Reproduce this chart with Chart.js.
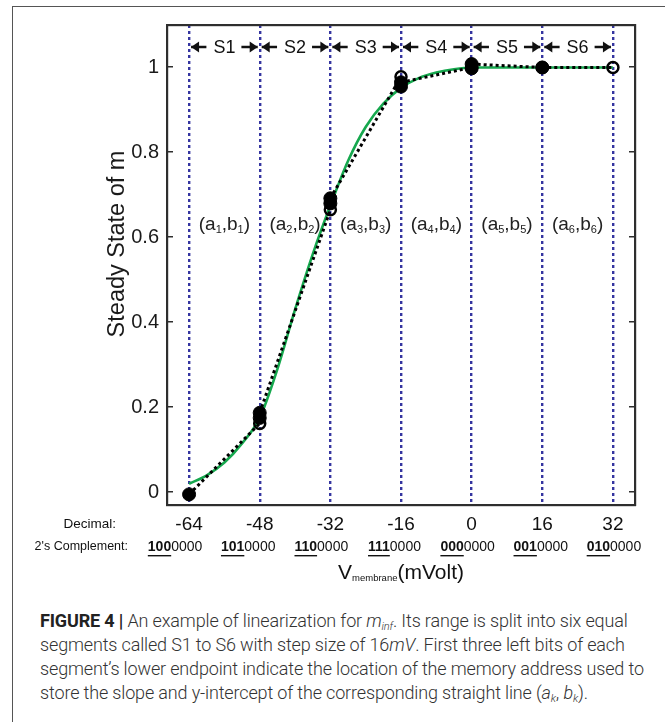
<!DOCTYPE html>
<html>
<head>
<meta charset="utf-8">
<script src="https://cdn.jsdelivr.net/npm/chart.js@4"></script>
<style>
  body { margin: 0; width: 665px; height: 722px; overflow: hidden; background: #fff; position: relative; }
  #frame { position: absolute; left: 12px; top: 6px; width: 700px; height: 760px; border: 1.5px solid #555; box-sizing: border-box; }
  #chartBox { position: absolute; left: 0; top: 0; width: 665px; height: 600px; }
  #caption { position: absolute; left: 40px; top: 609px; width: 620px; font-family: Roboto, 'Liberation Sans', Arial, sans-serif;
    font-size: 18px; font-weight: 300; line-height: 24px; color: #333; white-space: nowrap; letter-spacing: -0.15px; }
  #caption b { font-weight: 700; color: #222; }
  #caption sub { font-size: 11px; vertical-align: -3px; line-height: 0; }
</style>
</head>
<body>
<div id="frame"></div>
<div id="chartBox"><canvas id="mChart" width="665" height="600"></canvas></div>
<div id="caption">
  <b>FIGURE 4 |</b> An example of linearization for <i>m<sub>inf</sub></i>. Its range is split into six equal<br>
  segments called S1 to S6 with step size of 16<i>mV</i>. First three left bits of each<br>
  segment’s lower endpoint indicate the location of the memory address used to<br>
  store the slope and y-intercept of the corresponding straight line (<i>a<sub>k</sub></i>, <i>b<sub>k</sub></i>).
</div>
<script>
// ejes
const xTicks = [-64, -48, -32, -16, 0, 16, 32];
const decimalLabels = ['-64', '-48', '-32', '-16', '0', '16', '32'];
const binaryLabels = ['1000000', '1010000', '1100000', '1110000', '0000000', '0010000', '0100000'];
const segmentNames = ['S1', 'S2', 'S3', 'S4', 'S5', 'S6'];
const yTicks = [0, 0.2, 0.4, 0.6, 0.8, 1];

// curva verde m_inf
const vCurve = [-64, -60, -56, -52, -48, -44, -40, -36, -32, -28, -24, -20, -16, -12, -8, -4, 0, 8, 16, 24, 32];
const mCurve = [0.02, 0.04, 0.07, 0.115, 0.175, 0.29, 0.43, 0.56, 0.675, 0.78, 0.86, 0.915, 0.952, 0.975, 0.988, 0.996, 1.0, 1.0, 1.0, 1.0, 1.0];

// tramos lineales (inicio lleno, final abierto)
const segStartX = [-64, -48, -32, -16, 0, 16];
const segStartY = [-0.005, 0.187, 0.692, 0.965, 1.008, 1.0];
const segEndX = [-48, -32, -16, 0, 16, 32];
const segEndY = [0.162, 0.665, 0.978, 1.0, 1.0, 1.0];

// puntos llenos adicionales
const extraX = [-48, -32, -16, 0];
const extraY = [0.175, 0.680, 0.955, 0.998];

const FONT = "'Liberation Sans', Arial, sans-serif";

const curvePts = vCurve.map((v, i) => ({ x: v, y: mCurve[i] }));
const dottedPts = [];
segStartX.forEach((v, i) => {
  dottedPts.push({ x: v, y: segStartY[i] });
  dottedPts.push({ x: segEndX[i], y: segEndY[i] });
  if (i < segStartX.length - 1) dottedPts.push({ x: segEndX[i], y: null });
});
const filledPts = segStartX.map((v, i) => ({ x: v, y: segStartY[i] }))
  .concat(extraX.map((v, i) => ({ x: v, y: extraY[i] })));
const openPts = segEndX.map((v, i) => ({ x: v, y: segEndY[i] }));

function drawSub(ctx, parts, cx, y, big, small) {
  // parts: [texto, esSubindice]
  let w = 0;
  parts.forEach(p => { ctx.font = (p[1] ? small : big) + 'px ' + FONT; w += ctx.measureText(p[0]).width; });
  let x = cx - w / 2;
  ctx.textAlign = 'left';
  parts.forEach(p => {
    ctx.font = (p[1] ? small : big) + 'px ' + FONT;
    ctx.fillText(p[0], x, p[1] ? y + 5 : y);
    x += ctx.measureText(p[0]).width;
  });
}

const extrasPlugin = {
  id: 'extras',
  afterDraw(chart) {
    const ctx = chart.ctx;
    const a = chart.chartArea;
    const xs = chart.scales.x, ys = chart.scales.y;
    ctx.save();
    ctx.setLineDash([]);

    // caja
    ctx.fillStyle = '#2e2e2e';
    ctx.fillRect(a.left - 1, a.top - 1, a.right - a.left + 2, 2.2);
    ctx.fillRect(a.left - 1, a.bottom - 1, a.right - a.left + 2, 2.2);
    ctx.fillRect(a.left - 1, a.top - 1, 2.2, a.bottom - a.top + 2);
    ctx.fillRect(a.right - 1, a.top - 1, 2.2, a.bottom - a.top + 2);

    // marcas hacia dentro
    yTicks.forEach(v => {
      const py = Math.round(ys.getPixelForValue(v));
      ctx.fillRect(a.left, py - 1, 6, 1.5);
      ctx.fillRect(a.right - 6, py - 1, 6, 1.5);
    });

    // título del eje y
    ctx.save();
    ctx.fillStyle = '#1a1a1a';
    ctx.font = '23.5px ' + FONT;
    ctx.textAlign = 'center';
    ctx.textBaseline = 'middle';
    ctx.translate(118, 244);
    ctx.rotate(-Math.PI / 2);
    ctx.fillText('Steady State of m', 0, 0);
    ctx.restore();

    // etiquetas de segmentos con flechas
    ctx.fillStyle = '#111';
    ctx.strokeStyle = '#111';
    ctx.textBaseline = 'middle';
    const ty = a.top + 22;
    for (let i = 0; i < segmentNames.length; i++) {
      const x0 = xs.getPixelForValue(xTicks[i]);
      const x1 = xs.getPixelForValue(xTicks[i + 1]);
      const mid = (x0 + x1) / 2;
      ctx.font = '18px ' + FONT;
      ctx.textAlign = 'center';
      ctx.fillText(segmentNames[i], mid, ty + 1);
      ctx.lineWidth = 2.5;
      const arrows = [[mid - 18, x0 + 2], [mid + 17, x1 - 2]];
      arrows.forEach(([from, to]) => {
        const dir = Math.sign(to - from);
        ctx.beginPath();
        ctx.moveTo(from, ty); ctx.lineTo(to, ty);
        ctx.stroke();
        ctx.beginPath();
        ctx.moveTo(to, ty);
        ctx.lineTo(to - dir * 8, ty - 5.5);
        ctx.lineTo(to - dir * 8, ty + 5.5);
        ctx.closePath();
        ctx.fill();
      });
    }

    // (a_k, b_k)
    ctx.fillStyle = '#222';
    const ly = ys.getPixelForValue(0.63);
    for (let i = 0; i < segmentNames.length; i++) {
      const mid = (xs.getPixelForValue(xTicks[i]) + xs.getPixelForValue(xTicks[i + 1])) / 2;
      const k = String(i + 1);
      drawSub(ctx, [['(a', false], [k, true], [',b', false], [k, true], [')', false]], mid, ly, 19, 11);
    }

    // etiquetas del eje x
    ctx.fillStyle = '#111';
    ctx.strokeStyle = '#111';
    ctx.textBaseline = 'middle';
    ctx.font = '13.5px ' + FONT;
    ctx.textAlign = 'right';
    ctx.fillText('Decimal:', 116, a.bottom + 19);
    ctx.font = '12.5px ' + FONT;
    ctx.fillText("2's Complement:", 128, a.bottom + 42);
    const p0 = xs.getPixelForValue(xTicks[0]);
    const p6 = xs.getPixelForValue(xTicks[xTicks.length - 1]);
    xTicks.forEach((v, i) => {
      const px = xs.getPixelForValue(v);
      ctx.font = '19px ' + FONT;
      ctx.textAlign = 'center';
      ctx.fillText(decimalLabels[i], px, a.bottom + 20);

      const cx = (p0 - 14) + i * ((p6 + 1) - (p0 - 14)) / 6;
      const boldPart = binaryLabels[i].slice(0, 3);
      const rest = binaryLabels[i].slice(3);
      ctx.font = 'bold 14px ' + FONT;
      const wb = ctx.measureText(boldPart).width;
      ctx.font = '14px ' + FONT;
      const wr = ctx.measureText(rest).width;
      let x = cx - (wb + wr) / 2;
      const by = a.bottom + 42;
      ctx.textAlign = 'left';
      ctx.font = 'bold 14px ' + FONT;
      ctx.fillText(boldPart, x, by);
      ctx.fillRect(x, by + 8, wb, 1.4);
      ctx.font = '14px ' + FONT;
      ctx.fillText(rest, x + wb, by);
    });

    // título del eje x
    drawSub(ctx, [['V', false], ['membrane', true], ['(mVolt)', false]], (a.left + a.right) / 2, a.bottom + 68, 21, 9.5);
    ctx.restore();
  }
};

new Chart(document.getElementById('mChart').getContext('2d'), {
  type: 'line',
  data: {
    datasets: [
      {
        label: 'filled',
        data: filledPts,
        showLine: false,
        pointRadius: 6.5,
        pointBackgroundColor: '#000',
        pointBorderColor: '#000',
        pointBorderWidth: 1
      },
      {
        label: 'open',
        data: openPts,
        showLine: false,
        pointRadius: 5.5,
        pointBackgroundColor: 'rgba(255,255,255,0)',
        pointBorderColor: '#000',
        pointBorderWidth: 2.5
      },
      {
        label: 'linear',
        data: dottedPts,
        borderColor: '#000',
        borderWidth: 3,
        borderDash: [3, 3],
        pointRadius: 0,
        spanGaps: false,
        tension: 0
      },
      {
        label: 'm_inf',
        data: curvePts,
        borderColor: '#16a84e',
        borderWidth: 2.6,
        pointRadius: 0,
        cubicInterpolationMode: 'monotone'
      }
    ]
  },
  options: {
    responsive: false,
    animation: false,
    events: [],
    layout: { padding: { left: 104, top: 25, right: 30, bottom: 0 } },
    plugins: { legend: { display: false }, tooltip: { enabled: false } },
    scales: {
      x: {
        type: 'linear',
        min: -69,
        max: 37,
        afterBuildTicks: s => { s.ticks = xTicks.map(v => ({ value: v })); },
        ticks: { display: false },
        grid: { color: '#3535a0', lineWidth: 2.4, drawTicks: false },
        border: { display: false, dash: [3, 3] },
        afterFit: s => { s.height = 95; }
      },
      y: {
        min: -0.03,
        max: 1.1,
        afterBuildTicks: s => { s.ticks = yTicks.map(v => ({ value: v })); },
        ticks: {
          padding: 8,
          color: '#1a1a1a',
          font: { family: FONT, size: 20 },
          callback: v => String(v)
        },
        grid: { display: false, drawTicks: false },
        border: { display: false },
        title: { display: false },
        afterFit: s => { s.width = 63; }
      }
    }
  },
  plugins: [extrasPlugin]
});
</script>
</body>
</html>
